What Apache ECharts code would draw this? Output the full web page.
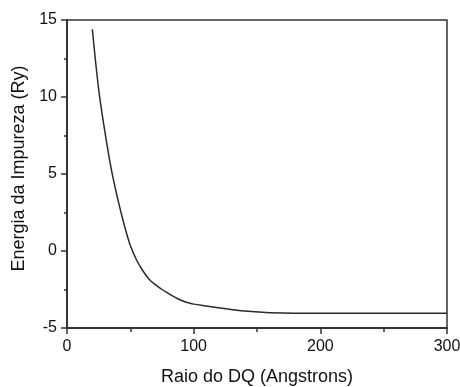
<!DOCTYPE html>
<html>
<head>
<meta charset="utf-8">
<script src="https://cdn.jsdelivr.net/npm/echarts@6/dist/echarts.min.js"></script>
<style>
  html, body { margin: 0; padding: 0; background: #fff; }
  #chart { width: 460px; height: 387px; }
</style>
</head>
<body>
<div id="chart"></div>
<script>
// dot radius (Angstrons) vs impurity energy (Ry)
const radius = [20, 25, 30, 35, 40, 45, 50, 55, 60, 65, 70, 75, 80, 85, 90, 95, 100, 140, 180, 220, 260, 300];
const energy = [14.4, 10.5, 7.7, 5.3, 3.4, 1.75, 0.35, -0.6, -1.3, -1.85, -2.2, -2.5, -2.75, -3.0, -3.2, -3.35, -3.45, -3.9, -4.05, -4.05, -4.05, -4.05];

const xName = "Raio do DQ (Angstrons)";
const yName = "Energia da Impureza (Ry)";

const chart = echarts.init(document.getElementById("chart"), null, { renderer: "canvas" });

const axisColor = "#333";
const font = "Liberation Sans, Arial, sans-serif";

chart.setOption({
  animation: false,
  backgroundColor: "#fff",
  grid: {
    left: 67, right: 13, top: 20, bottom: 59,
    outerBoundsMode: "none",
    containLabel: false,
    show: true, borderColor: axisColor, borderWidth: 1.5
  },
  xAxis: {
    type: "value",
    min: 0, max: 300, interval: 100,
    name: xName,
    nameLocation: "middle",
    nameGap: 40,
    nameTextStyle: { color: "#111", fontSize: 18, fontFamily: font },
    axisLine: { show: true, onZero: false, lineStyle: { color: axisColor, width: 2 } },
    axisTick: { show: true, inside: false, length: 6, lineStyle: { color: axisColor, width: 1.5 } },
    minorTick: { show: true, splitNumber: 2, length: 4, lineStyle: { color: axisColor, width: 1.5 } },
    axisLabel: { color: "#111", fontSize: 16, fontFamily: font, margin: 11 },
    splitLine: { show: false }
  },
  yAxis: {
    type: "value",
    min: -5, max: 15, interval: 5,
    name: yName,
    nameLocation: "middle",
    nameGap: 27,
    nameTextStyle: { color: "#111", fontSize: 18, fontFamily: font, padding: [0, 0, 0, 11] },
    axisLine: { show: true, onZero: false, lineStyle: { color: axisColor, width: 2 } },
    axisTick: { show: true, inside: false, length: 6, lineStyle: { color: axisColor, width: 1.5 } },
    minorTick: { show: true, splitNumber: 2, length: 3, lineStyle: { color: axisColor, width: 1.5 } },
    axisLabel: { color: "#111", fontSize: 16, fontFamily: font, margin: 10 },
    splitLine: { show: false }
  },
  series: [{
    type: "line",
    data: radius.map((r, i) => [r, energy[i]]),
    showSymbol: false,
    smooth: 0.3,
    lineStyle: { color: "#2a2a2a", width: 1.5 }
  }]
});
</script>
</body>
</html>
